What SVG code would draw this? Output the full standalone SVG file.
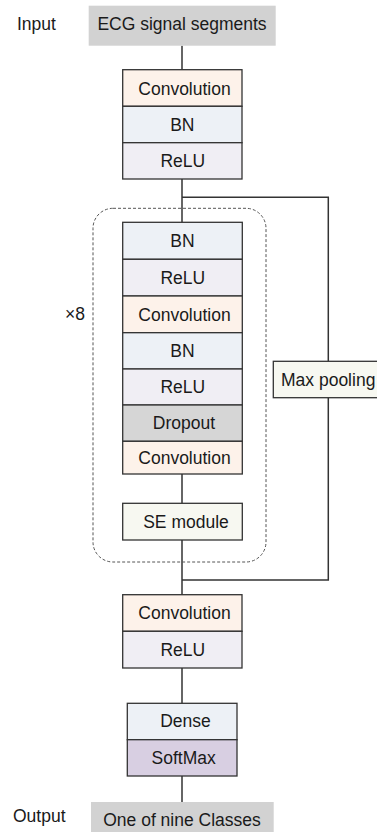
<svg xmlns="http://www.w3.org/2000/svg" width="377" height="832" viewBox="0 0 377 832">
<style>
text{font-family:"Liberation Sans",Arial,sans-serif;font-size:17.5px;fill:#1a1a1a}
.c{text-anchor:middle}
.b{stroke:#333;stroke-width:1.3}
.conv{fill:#fdf2ea}.bn{fill:#edf1f6}.relu{fill:#f0eef4}.drop{fill:#d6d6d6}.se{fill:#f7f8f1}.gray{fill:#d2d2d2}.soft{fill:#d8cfe2}
.ln{fill:none;stroke:#333;stroke-width:1.5}
</style>
<rect width="377" height="832" fill="#fff"/>
<g id="connectors">
<path class="ln" d="M182 45.7V69.7"/>
<path class="ln" d="M182 179V222.3"/>
<path class="ln" d="M182 197.3H328.3V361.3"/>
<path class="ln" d="M328.3 397.7V580H182"/>
<path class="ln" d="M182 474V503.3"/>
<path class="ln" d="M182 540V594.7"/>
<path class="ln" d="M182 668V703.3"/>
<path class="ln" d="M182 776V802"/>
</g>
<g id="repeat-group">
<rect x="93" y="208.3" width="173" height="353.7" rx="20" fill="none" stroke="#555" stroke-width="1" stroke-dasharray="3,2"/>
<text x="65" y="320">×8</text>
</g>
<g id="input">
<text x="17" y="30">Input</text>
<rect class="gray" x="88.7" y="5.7" width="187" height="40"/>
<text class="c" x="182" y="30">ECG signal segments</text>
</g>
<g id="stem">
<rect class="b conv" x="122.7" y="69.7" width="119.3" height="36.6"/>
<text class="c" x="184.5" y="94.5">Convolution</text>
<rect class="b bn" x="122.7" y="106.3" width="119.3" height="36.4"/>
<text class="c" x="182.3" y="130.8">BN</text>
<rect class="b relu" x="122.7" y="142.7" width="119.3" height="36.3"/>
<text class="c" x="182.8" y="166.8">ReLU</text>
</g>
<g id="block">
<rect class="b bn" x="122.7" y="222.3" width="119.6" height="37"/>
<text class="c" x="182.5" y="247">BN</text>
<rect class="b relu" x="122.7" y="259.3" width="119.6" height="36.7"/>
<text class="c" x="182.8" y="283.8">ReLU</text>
<rect class="b conv" x="122.7" y="296" width="119.6" height="36.7"/>
<text class="c" x="184.5" y="320.5">Convolution</text>
<rect class="b bn" x="122.7" y="332.7" width="119.6" height="36.3"/>
<text class="c" x="182.5" y="357">BN</text>
<rect class="b relu" x="122.7" y="369" width="119.6" height="36"/>
<text class="c" x="182.8" y="393">ReLU</text>
<rect class="b drop" x="122.7" y="405" width="119.6" height="36.3"/>
<text class="c" x="184" y="429.3">Dropout</text>
<rect class="b conv" x="122.7" y="441.3" width="119.6" height="32.7"/>
<text class="c" x="184.5" y="463.5">Convolution</text>
</g>
<g id="se-module">
<rect class="b se" x="122.7" y="503.3" width="119.6" height="36.7"/>
<text class="c" x="186" y="527.8">SE module</text>
</g>
<g id="max-pooling">
<rect class="b se" x="273.3" y="361.3" width="110" height="36.4"/>
<text x="281" y="385.8">Max pooling</text>
</g>
<g id="head-conv">
<rect class="b conv" x="122.7" y="594.7" width="119.3" height="36.6"/>
<text class="c" x="184.5" y="619.3">Convolution</text>
<rect class="b relu" x="122.7" y="631.3" width="119.3" height="36.7"/>
<text class="c" x="182.8" y="656">ReLU</text>
</g>
<g id="dense">
<rect class="b bn" x="127.3" y="703.3" width="109.7" height="36.4"/>
<text class="c" x="185.5" y="727">Dense</text>
<rect class="b soft" x="127.3" y="739.7" width="109.7" height="36.3"/>
<text class="c" x="183.7" y="763.5">SoftMax</text>
</g>
<g id="output">
<text x="13" y="822">Output</text>
<rect class="gray" x="91" y="802" width="182.7" height="32"/>
<text class="c" x="182" y="826">One of nine Classes</text>
</g>
</svg>
